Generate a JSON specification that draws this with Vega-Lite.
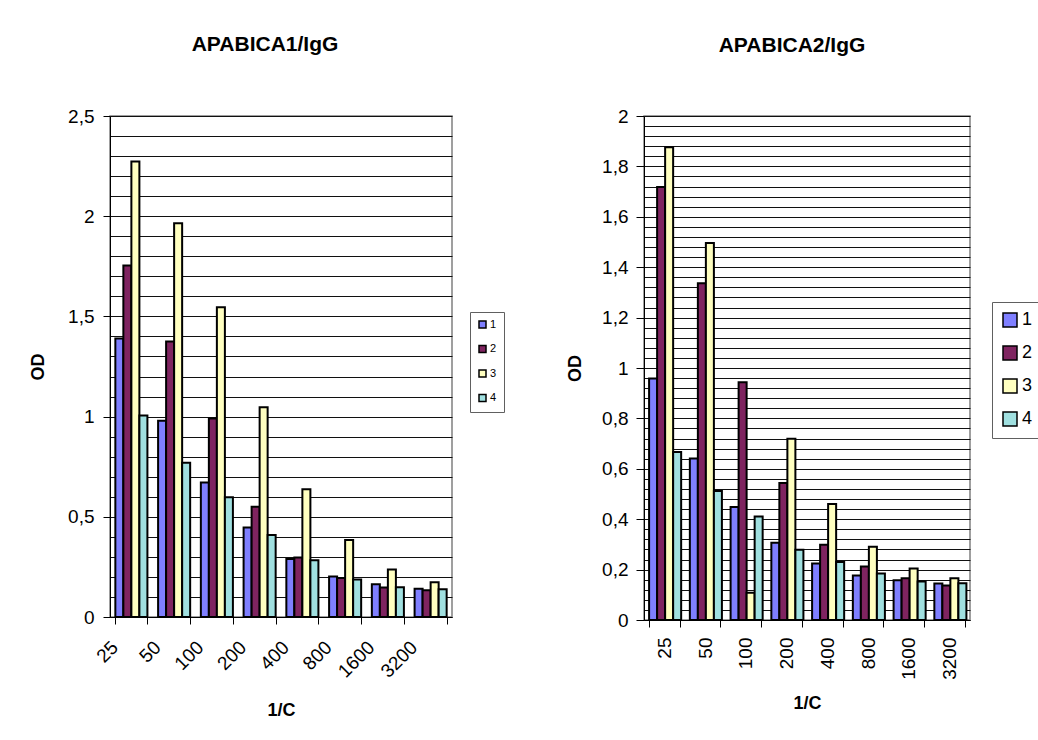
{
  "$schema": "https://vega.github.io/schema/vega-lite/v6.json",
  "padding": {"left": 28, "top": 33, "right": 0, "bottom": 0},
  "spacing": 59,
  "background": "white",
  "config": {
    "font": "Liberation Sans",
    "view": {"stroke": "#808080", "strokeWidth": 1.5},
    "title": {"fontSize": 21, "fontWeight": "bold", "color": "black", "anchor": "middle"},
    "axis": {
      "labelColor": "black",
      "titleColor": "black",
      "domainColor": "black",
      "tickColor": "black",
      "labelFontSize": 19,
      "titleFontSize": 18,
      "titleFontWeight": "bold",
      "tickSize": 7
    }
  },
  "datasets": {
    "apabica1": [
      {"dilution": "25", "serum": "1", "od": 1.39},
      {"dilution": "25", "serum": "2", "od": 1.754},
      {"dilution": "25", "serum": "3", "od": 2.273},
      {"dilution": "25", "serum": "4", "od": 1.006},
      {"dilution": "50", "serum": "1", "od": 0.979},
      {"dilution": "50", "serum": "2", "od": 1.375},
      {"dilution": "50", "serum": "3", "od": 1.965},
      {"dilution": "50", "serum": "4", "od": 0.77},
      {"dilution": "100", "serum": "1", "od": 0.671},
      {"dilution": "100", "serum": "2", "od": 0.991},
      {"dilution": "100", "serum": "3", "od": 1.546},
      {"dilution": "100", "serum": "4", "od": 0.598},
      {"dilution": "200", "serum": "1", "od": 0.447},
      {"dilution": "200", "serum": "2", "od": 0.55},
      {"dilution": "200", "serum": "3", "od": 1.047},
      {"dilution": "200", "serum": "4", "od": 0.409},
      {"dilution": "400", "serum": "1", "od": 0.29},
      {"dilution": "400", "serum": "2", "od": 0.297},
      {"dilution": "400", "serum": "3", "od": 0.638},
      {"dilution": "400", "serum": "4", "od": 0.283},
      {"dilution": "800", "serum": "1", "od": 0.202},
      {"dilution": "800", "serum": "2", "od": 0.195},
      {"dilution": "800", "serum": "3", "od": 0.384},
      {"dilution": "800", "serum": "4", "od": 0.187},
      {"dilution": "1600", "serum": "1", "od": 0.164},
      {"dilution": "1600", "serum": "2", "od": 0.147},
      {"dilution": "1600", "serum": "3", "od": 0.237},
      {"dilution": "1600", "serum": "4", "od": 0.149},
      {"dilution": "3200", "serum": "1", "od": 0.141},
      {"dilution": "3200", "serum": "2", "od": 0.134},
      {"dilution": "3200", "serum": "3", "od": 0.174},
      {"dilution": "3200", "serum": "4", "od": 0.138}
    ],
    "apabica2": [
      {"dilution": "25", "serum": "1", "od": 0.958},
      {"dilution": "25", "serum": "2", "od": 1.718},
      {"dilution": "25", "serum": "3", "od": 1.876},
      {"dilution": "25", "serum": "4", "od": 0.667},
      {"dilution": "50", "serum": "1", "od": 0.641},
      {"dilution": "50", "serum": "2", "od": 1.336},
      {"dilution": "50", "serum": "3", "od": 1.496},
      {"dilution": "50", "serum": "4", "od": 0.512},
      {"dilution": "100", "serum": "1", "od": 0.448},
      {"dilution": "100", "serum": "2", "od": 0.943},
      {"dilution": "100", "serum": "3", "od": 0.108},
      {"dilution": "100", "serum": "4", "od": 0.411},
      {"dilution": "200", "serum": "1", "od": 0.307},
      {"dilution": "200", "serum": "2", "od": 0.544},
      {"dilution": "200", "serum": "3", "od": 0.719},
      {"dilution": "200", "serum": "4", "od": 0.279},
      {"dilution": "400", "serum": "1", "od": 0.224},
      {"dilution": "400", "serum": "2", "od": 0.299},
      {"dilution": "400", "serum": "3", "od": 0.46},
      {"dilution": "400", "serum": "4", "od": 0.23},
      {"dilution": "800", "serum": "1", "od": 0.177},
      {"dilution": "800", "serum": "2", "od": 0.212},
      {"dilution": "800", "serum": "3", "od": 0.291},
      {"dilution": "800", "serum": "4", "od": 0.185},
      {"dilution": "1600", "serum": "1", "od": 0.158},
      {"dilution": "1600", "serum": "2", "od": 0.166},
      {"dilution": "1600", "serum": "3", "od": 0.204},
      {"dilution": "1600", "serum": "4", "od": 0.153},
      {"dilution": "3200", "serum": "1", "od": 0.145},
      {"dilution": "3200", "serum": "2", "od": 0.137},
      {"dilution": "3200", "serum": "3", "od": 0.166},
      {"dilution": "3200", "serum": "4", "od": 0.146}
    ]
  },
  "hconcat": [
    {
      "title": {"text": "APABICA1/IgG", "offset": 52, "dx": -16},
      "width": 342,
      "height": 501,
      "data": {"name": "apabica1"},
      "mark": {"type": "bar", "stroke": "black", "strokeWidth": 2, "strokeOpacity": 1},
      "encoding": {
        "x": {
          "field": "dilution", "type": "ordinal", "sort": null,
          "scale": {"paddingInner": 0.25, "paddingOuter": 0.125},
          "axis": {
            "title": "1/C", "titlePadding": 21, "labelAngle": -45,
            "labelAlign": "right", "labelBaseline": "middle",
            "labelOffset": -17, "labelPadding": 20, "tickBand": "extent"
          }
        },
        "xOffset": {"field": "serum", "type": "nominal", "scale": {"paddingInner": 0, "paddingOuter": 0}},
        "y": {
          "field": "od", "type": "quantitative",
          "scale": {"domain": [0, 2.5], "nice": false},
          "axis": {
            "title": "OD", "titlePadding": 20, "labelPadding": 9,
            "values": [0, 0.1, 0.2, 0.3, 0.4, 0.5, 0.6, 0.7, 0.8, 0.9, 1, 1.1, 1.2, 1.3, 1.4, 1.5, 1.6, 1.7, 1.8, 1.9, 2, 2.1, 2.2, 2.3, 2.4, 2.5],
            "labelExpr": "abs(round(datum.value*10)) % 5 == 0 ? replace(format(datum.value, '.1~f'), '.', ',') : ''",
            "tickOpacity": {"condition": {"test": "abs(round(datum.value*10)) % 5 != 0", "value": 0}, "value": 1},
            "grid": true, "gridColor": "#101010", "gridWidth": 1
          }
        },
        "color": {
          "field": "serum", "type": "nominal",
          "scale": {"domain": ["1", "2", "3", "4"], "range": ["#7F7FFF", "#7F2460", "#FFFFC0", "#A0E0E0"]},
          "legend": {
            "title": null, "orient": "none", "legendX": 360, "legendY": 196,
            "symbolType": "square", "symbolSize": 49, "symbolStrokeColor": "black",
            "symbolStrokeWidth": 1.5, "symbolOpacity": 1, "labelFontSize": 11, "labelColor": "black",
            "labelOffset": 2, "rowPadding": 11.5, "padding": 7, "strokeColor": "#606060"
          }
        }
      }
    },
    {
      "title": {"text": "APABICA2/IgG", "offset": 51, "dx": -15},
      "width": 326,
      "height": 504,
      "data": {"name": "apabica2"},
      "mark": {"type": "bar", "stroke": "black", "strokeWidth": 2, "strokeOpacity": 1},
      "encoding": {
        "x": {
          "field": "dilution", "type": "ordinal", "sort": null,
          "scale": {"paddingInner": 0.25, "paddingOuter": 0.125},
          "axis": {
            "title": "1/C", "titlePadding": 15, "labelAngle": -90,
            "labelAlign": "right", "labelBaseline": "middle",
            "labelPadding": 10, "tickBand": "extent"
          }
        },
        "xOffset": {"field": "serum", "type": "nominal", "scale": {"paddingInner": 0, "paddingOuter": 0}},
        "y": {
          "field": "od", "type": "quantitative",
          "scale": {"domain": [0, 2], "nice": false},
          "axis": {
            "title": "OD", "titlePadding": 17, "labelPadding": 8, "tickSize": 8,
            "values": [0, 0.04, 0.08, 0.12, 0.16, 0.2, 0.24, 0.28, 0.32, 0.36, 0.4, 0.44, 0.48, 0.52, 0.56, 0.6, 0.64, 0.68, 0.72, 0.76, 0.8, 0.84, 0.88, 0.92, 0.96, 1, 1.04, 1.08, 1.12, 1.16, 1.2, 1.24, 1.28, 1.32, 1.36, 1.4, 1.44, 1.48, 1.52, 1.56, 1.6, 1.64, 1.68, 1.72, 1.76, 1.8, 1.84, 1.88, 1.92, 1.96, 2],
            "labelExpr": "abs(round(datum.value*100)) % 20 == 0 ? replace(format(datum.value, '.1~f'), '.', ',') : ''",
            "tickOpacity": {"condition": {"test": "abs(round(datum.value*100)) % 20 != 0", "value": 0}, "value": 1},
            "grid": true, "gridColor": "#101010", "gridWidth": 1
          }
        },
        "color": {
          "field": "serum", "type": "nominal",
          "scale": {"domain": ["1", "2", "3", "4"], "range": ["#7F7FFF", "#7F2460", "#FFFFC0", "#A0E0E0"]},
          "legend": {
            "title": null, "orient": "none", "legendX": 348, "legendY": 186,
            "symbolType": "square", "symbolSize": 196, "symbolStrokeColor": "black",
            "symbolStrokeWidth": 1.5, "symbolOpacity": 1, "labelFontSize": 18, "labelColor": "black",
            "labelOffset": 3, "rowPadding": 13, "padding": 9, "strokeColor": "#606060"
          }
        }
      }
    }
  ],
  "resolve": {"scale": {"color": "independent"}, "legend": {"color": "independent"}}
}
